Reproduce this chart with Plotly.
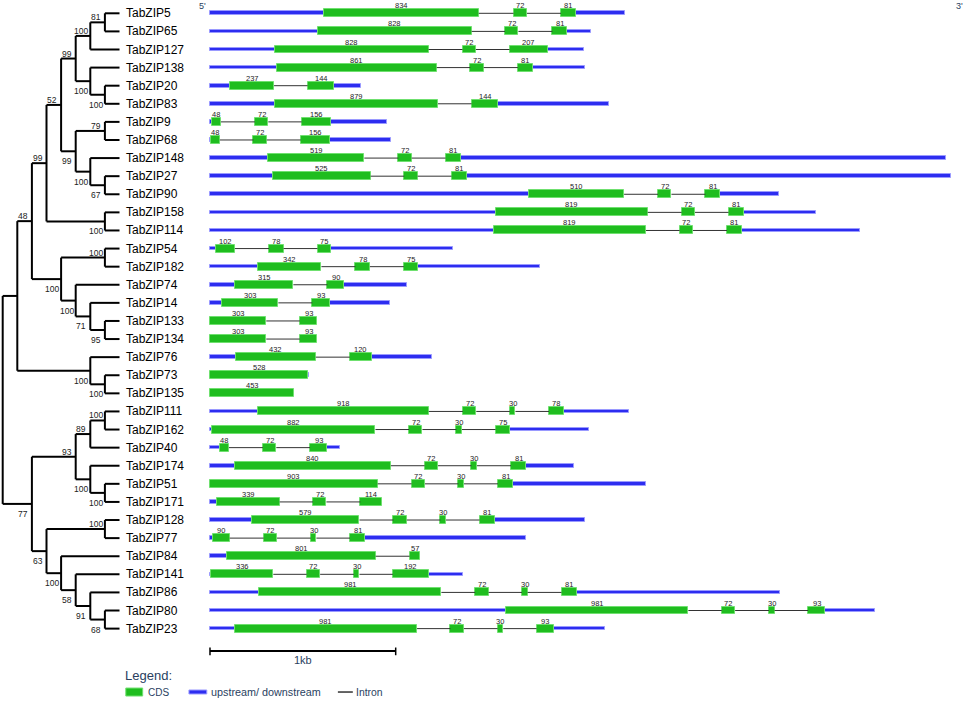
import plotly.graph_objects as go

# Phylogeny of the TabZIP genes, bootstrap support as internal node labels
tree_newick = (
    "((((((((TabZIP5,TabZIP65)81,TabZIP127)100,(TabZIP138,(TabZIP20,TabZIP83)100)100)99,"
    "((TabZIP9,TabZIP68)79,(TabZIP148,(TabZIP27,TabZIP90)67)100)99)52,(TabZIP158,TabZIP114)100)99,"
    "((TabZIP54,TabZIP182)100,(TabZIP74,(TabZIP14,(TabZIP133,TabZIP134)95)71)100)100)48,"
    "(TabZIP76,(TabZIP73,TabZIP135)100)100),"
    "((((TabZIP111,TabZIP162)100,TabZIP40)89,(TabZIP174,(TabZIP51,TabZIP171)100)100)93,"
    "((TabZIP128,TabZIP77)100,(TabZIP84,(TabZIP141,(TabZIP86,(TabZIP80,TabZIP23)68)91)58)100)63)77);"
)

# Gene structures, top to bottom (lengths in bp)
genes = [
    "TabZIP5", "TabZIP65", "TabZIP127", "TabZIP138", "TabZIP20", "TabZIP83", "TabZIP9",
    "TabZIP68", "TabZIP148", "TabZIP27", "TabZIP90", "TabZIP158", "TabZIP114", "TabZIP54",
    "TabZIP182", "TabZIP74", "TabZIP14", "TabZIP133", "TabZIP134", "TabZIP76", "TabZIP73",
    "TabZIP135", "TabZIP111", "TabZIP162", "TabZIP40", "TabZIP174", "TabZIP51", "TabZIP171",
    "TabZIP128", "TabZIP77", "TabZIP84", "TabZIP141", "TabZIP86", "TabZIP80", "TabZIP23",
]
utr5_bp = [613, 581, 349, 360, 108, 349, 11, 5, 312, 340, 1720, 1538, 1529, 32, 258, 134, 65, 0,
           0, 138, 0, 0, 260, 9, 54, 134, 0, 36, 226, 16, 91, 5, 265, 1595, 134]
exon_bp = [
    [834, 72, 81], [828, 72, 81], [828, 72, 207], [861, 72, 81], [237, 144], [879, 144],
    [48, 72, 156], [48, 72, 156], [519, 72, 81], [525, 72, 81], [510, 72, 81], [819, 72, 81],
    [819, 72, 81], [102, 78, 75], [342, 78, 75], [315, 90], [303, 93], [303, 93], [303, 93],
    [432, 120], [528], [453], [918, 72, 30, 78], [882, 72, 30, 75], [48, 72, 93],
    [840, 72, 30, 81], [903, 72, 30, 81], [339, 72, 114], [579, 72, 30, 81], [90, 72, 30, 81],
    [801, 57], [336, 72, 30, 192], [981, 72, 30, 81], [981, 72, 30, 93], [981, 72, 30, 93],
]
intron_bp = [
    [188, 183], [180, 183], [183, 181], [181, 184], [181], [181], [183, 180], [181, 183],
    [183, 183], [181, 183], [183, 183], [183, 181], [181, 183], [184, 183], [183, 183], [183],
    [183], [181], [181], [183], [], [], [184, 181, 181], [181, 183, 181], [183, 182],
    [182, 180, 183], [183, 180, 183], [180, 183], [183, 181, 181], [183, 182, 181], [183],
    [180, 182, 180], [182, 180, 183], [180, 182, 181], [180, 182, 180],
]
utr3_bp = [263, 129, 194, 280, 141, 598, 304, 328, 2613, 2606, 313, 389, 634, 652, 659, 340,
           326, 0, 0, 325, 5, 0, 352, 430, 70, 256, 718, 0, 487, 867, 0, 184, 1096, 267, 273]

GREEN, GREEN_EDGE = "#1fbd1f", "#6fe06f"
BLUE, BLUE_EDGE = "#2d2df0", "#9a9aff"
FONT = "Arial, 'Liberation Sans', sans-serif"


def parse_newick(s):
    pos = 0

    def read_node():
        nonlocal pos
        if s[pos] == "(":
            pos += 1
            kids = [read_node()]
            while s[pos] == ",":
                pos += 1
                kids.append(read_node())
            pos += 1
            start = pos
            while s[pos] not in ",();":
                pos += 1
            return {"kids": kids, "support": s[start:pos]}
        start = pos
        while s[pos] not in ",();":
            pos += 1
        return {"kids": [], "name": s[start:pos]}

    return read_node()


def place(node):
    # cladogram: leaves aligned at x=0, internal nodes by height above leaves
    if not node["kids"]:
        node["h"] = 0
        node["y"] = genes.index(node["name"])
    else:
        for k in node["kids"]:
            place(k)
        node["h"] = 1 + max(k["h"] for k in node["kids"])
        node["y"] = (node["kids"][0]["y"] + node["kids"][-1]["y"]) / 2
    node["x"] = -node["h"]


root = parse_newick(tree_newick)
place(root)

tree_x, tree_y = [], []
support_notes = []


def walk(node):
    if not node["kids"]:
        return
    kids = node["kids"]
    tree_x.extend([node["x"], node["x"], None])
    tree_y.extend([kids[0]["y"], kids[-1]["y"], None])
    for i, k in enumerate(kids):
        tree_x.extend([node["x"], k["x"], None])
        tree_y.extend([k["y"], k["y"], None])
        if k["kids"] and k.get("support"):
            support_notes.append((k["x"], k["y"], k["support"], i == 0))
        walk(k)


walk(root)

fig = go.Figure()

fig.add_trace(go.Scatter(
    x=tree_x, y=tree_y, mode="lines", xaxis="x", yaxis="y",
    line=dict(color="black", width=2), hoverinfo="skip",
))

# gene structure pieces
utr_rows, utr_base, utr_len = [], [], []
cds_rows, cds_base, cds_len = [], [], []
intron_x, intron_y = [], []
annotations = []

for row, (u5, exons, introns, u3) in enumerate(zip(utr5_bp, exon_bp, intron_bp, utr3_bp)):
    if u5 > 0:
        utr_rows.append(row); utr_base.append(0); utr_len.append(u5)
    pos = u5
    for i, e in enumerate(exons):
        cds_rows.append(row); cds_base.append(pos); cds_len.append(e)
        annotations.append(dict(
            x=pos + e / 2, y=row, xref="x2", yref="y", text=str(e), showarrow=False,
            yshift=7.5, font=dict(size=7.5, color="#222", family=FONT),
        ))
        pos += e
        if i < len(introns):
            intron_x.extend([pos, pos + introns[i], None])
            intron_y.extend([row, row, None])
            pos += introns[i]
    if u3 > 0:
        utr_rows.append(row); utr_base.append(pos); utr_len.append(u3)

fig.add_trace(go.Bar(
    y=utr_rows, x=utr_len, base=utr_base, orientation="h", width=0.2,
    xaxis="x2", yaxis="y", marker=dict(color=BLUE, line=dict(color=BLUE_EDGE, width=1)),
    hoverinfo="skip",
))
fig.add_trace(go.Scatter(
    x=intron_x, y=intron_y, mode="lines", xaxis="x2", yaxis="y",
    line=dict(color="#333", width=1), hoverinfo="skip",
))
fig.add_trace(go.Bar(
    y=cds_rows, x=cds_len, base=cds_base, orientation="h", width=0.44,
    xaxis="x2", yaxis="y", marker=dict(color=GREEN, line=dict(color=GREEN_EDGE, width=1)),
    hoverinfo="skip",
))

for row, name in enumerate(genes):
    annotations.append(dict(
        x=0, y=row, xref="x", yref="y", text=name, showarrow=False, xanchor="left",
        xshift=4, font=dict(size=12, color="black", family=FONT),
    ))

for x, y, s, upper in support_notes:
    annotations.append(dict(
        x=x, y=y, xref="x", yref="y", text=s, showarrow=False, xanchor="center",
        xshift=-9, yshift=5 if upper else -10, font=dict(size=8.5, color="#222", family=FONT),
    ))


def paper_text(x, y, text, size, xanchor="center", xref="paper"):
    return dict(x=x, y=y, xref=xref, yref="paper", text=text, showarrow=False,
                xanchor=xanchor, yanchor="middle", font=dict(size=size, family=FONT))


# 5'/3' ends, scale bar label and legend text
annotations += [
    paper_text(0.210, 0.992, "5'", 9),
    paper_text(0.9953, 0.992, "3'", 9),
    paper_text(500, 0.0585, "1kb", 11, xref="x2"),
    paper_text(0.128, 0.036, "Legend:", 13, xanchor="left"),
    paper_text(0.151, 0.0128, "CDS", 10, xanchor="left"),
    paper_text(0.217, 0.0128, "upstream/ downstream", 10.8, xanchor="left"),
    paper_text(0.367, 0.0128, "Intron", 10.4, xanchor="left"),
]

shapes = [
    # 1 kb scale bar
    dict(type="line", xref="x2", yref="paper", x0=0, x1=1000, y0=0.0713, y1=0.0713,
         line=dict(color="black", width=2)),
    dict(type="line", xref="x2", yref="paper", x0=0, x1=0, y0=0.0653, y1=0.0763,
         line=dict(color="black", width=1.5)),
    dict(type="line", xref="x2", yref="paper", x0=1000, x1=1000, y0=0.0653, y1=0.0763,
         line=dict(color="black", width=1.5)),
    # legend swatches
    dict(type="rect", xref="paper", yref="paper", x0=0.1305, x1=0.148, y0=0.0071, y1=0.0185,
         fillcolor=GREEN, line=dict(color=GREEN_EDGE, width=1)),
    dict(type="rect", xref="paper", yref="paper", x0=0.196, x1=0.2145, y0=0.0100, y1=0.0157,
         fillcolor=BLUE, line=dict(color=BLUE_EDGE, width=1)),
    dict(type="line", xref="paper", yref="paper", x0=0.3505, x1=0.366, y0=0.0128, y1=0.0128,
         line=dict(color="#333", width=1.5)),
]

fig.update_layout(
    width=964, height=701, autosize=False,
    margin=dict(l=0, r=0, t=0, b=0),
    paper_bgcolor="white", plot_bgcolor="white",
    showlegend=False, barmode="overlay", bargap=0,
    xaxis=dict(range=[-8.185, 57.84], visible=False, fixedrange=True),
    xaxis2=dict(range=[-1130.8, 4060.4], overlaying="x", visible=False, fixedrange=True),
    yaxis=dict(range=[38.0, -0.735], visible=False, fixedrange=True),
    annotations=annotations,
    shapes=shapes,
    font=dict(family=FONT),
)

# drop the default page margin so the 964x701 figure fills the window exactly
fig.write_html(
    "out.html",
    config={"displayModeBar": False},
    post_script="document.body.style.margin='0';document.body.style.overflow='hidden';",
)
